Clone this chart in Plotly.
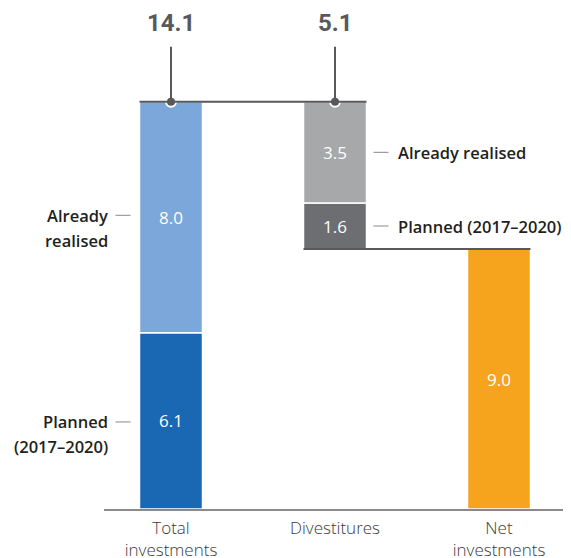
import plotly.graph_objects as go

# ---- data ----
categories = ["Total<br>investments", "Divestitures", "Net<br>investments"]
inv_realised = 8.0
inv_planned = 6.1
div_realised = 3.5
div_planned = 1.6
inv_total = round(inv_realised + inv_planned, 1)      # 14.1
div_total = round(div_realised + div_planned, 1)      # 5.1
net_inv = round(inv_total - div_total, 1)             # 9.0

# ---- styling ----
C_INV_REAL = "#7BA7DA"
C_INV_PLAN = "#1A67B4"
C_DIV_REAL = "#A7A8AA"
C_DIV_PLAN = "#6D6E71"
C_NET = "#F6A31E"
C_LINE = "#58595B"
C_DASH = "#9D9D9D"
FONT = "Open Sans"

W, H = 563, 550
ML, MR, MT, MB = 96, 3, 0, 49
x_range = [-0.4085, 2.4207]
y_range = [0, 17.35]
px_x = (x_range[1] - x_range[0]) / (W - ML - MR)   # data units per pixel (x)
px_y = (y_range[1] - y_range[0]) / (H - MT - MB)   # data units per pixel (y)
bw = 63 * px_x                                      # bar width

fig = go.Figure()

def bar(x, y, base, color, text):
    fig.add_trace(go.Bar(
        x=[x], y=[y], base=[base], width=[bw],
        marker=dict(color=color, line=dict(color="white", width=1.5)),
        text=[text], textposition="inside", insidetextanchor="middle",
        textfont=dict(color="white", size=17, family=FONT),
        hoverinfo="skip", showlegend=False, cliponaxis=False,
    ))

bar(0, inv_planned, 0, C_INV_PLAN, f"{inv_planned:.1f}")
bar(0, inv_realised, inv_planned, C_INV_REAL, f"{inv_realised:.1f}")
bar(1, div_planned, net_inv, C_DIV_PLAN, f"{div_planned:.1f}")
bar(1, div_realised, net_inv + div_planned, C_DIV_REAL, f"{div_realised:.1f}")
bar(2, net_inv, 0, C_NET, f"{net_inv:.1f}")

shapes = []
# connector lines
shapes.append(dict(type="line", x0=0 - bw / 2, x1=1 + bw / 2, y0=inv_total, y1=inv_total,
                   line=dict(color=C_LINE, width=2), layer="above"))
shapes.append(dict(type="line", x0=1 - bw / 2, x1=2 + bw / 2, y0=net_inv, y1=net_inv,
                   line=dict(color=C_LINE, width=2), layer="above"))
# vertical leader lines to the top labels
for xi in (0, 1):
    shapes.append(dict(type="line", x0=xi, x1=xi, y0=inv_total, y1=inv_total + 55 * px_y,
                       line=dict(color=C_LINE, width=2), layer="above"))

# dots
fig.add_trace(go.Scatter(
    x=[0, 1], y=[inv_total, inv_total], mode="markers",
    marker=dict(size=10, color=C_LINE, line=dict(color="white", width=2)),
    hoverinfo="skip", showlegend=False, cliponaxis=False,
))

annotations = []
# top totals
for xi, val in ((0, inv_total), (1, div_total)):
    annotations.append(dict(x=xi, y=inv_total, yshift=79, text=f"<b>{val:.1f}</b>",
                            showarrow=False, font=dict(size=24, color=C_LINE, family="Roboto"),
                            xanchor="center", yanchor="middle"))

lab_font = dict(size=16.5, color="#231F20", family=FONT, weight=600)

# left labels (Total investments)
left_edge = 0 - bw / 2
def left_label(lines, y_mid):
    shapes.append(dict(type="line", x0=left_edge - 24 * px_x, x1=left_edge - 9 * px_x,
                       y0=y_mid, y1=y_mid, line=dict(color=C_DASH, width=1.2)))
    for i, t in enumerate(lines):
        annotations.append(dict(x=left_edge - 30 * px_x, y=y_mid, yshift=-25 * i, text=t,
                                showarrow=False, xanchor="right", yanchor="middle", font=lab_font))

left_label(["Already", "realised"], inv_planned + inv_realised / 2 + 2 * px_y)
left_label(["Planned", "(2017–2020)"], inv_planned / 2 - 1 * px_y)

# right labels (Divestitures)
right_edge = 1 + bw / 2
def right_label(text, y_mid):
    shapes.append(dict(type="line", x0=right_edge + 7 * px_x, x1=right_edge + 22 * px_x,
                       y0=y_mid, y1=y_mid, line=dict(color=C_DASH, width=1.2)))
    annotations.append(dict(x=right_edge + 29 * px_x, y=y_mid, text=text, showarrow=False,
                            xanchor="left", yanchor="middle", font=lab_font))

right_label("Already realised", net_inv + div_planned + div_realised / 2)
right_label("Planned (2017–2020)", net_inv + div_planned / 2)

fig.update_layout(
    width=W, height=H,
    margin=dict(l=ML, r=MR, t=MT, b=MB, autoexpand=False),
    paper_bgcolor="white", plot_bgcolor="white",
    barmode="overlay",
    shapes=shapes, annotations=annotations,
    xaxis=dict(range=x_range, tickvals=[0, 1, 2], ticktext=categories,
               showgrid=False, zeroline=False, showline=True, linecolor="#8A8A8A", linewidth=1.5,
               ticks="", ticklabelstandoff=3, automargin=False,
               tickfont=dict(size=17, color="#3A3A3A", family=FONT, weight=300),
               fixedrange=True),
    yaxis=dict(range=y_range, visible=False, showgrid=False, zeroline=False, fixedrange=True),
    font=dict(family=FONT),
)

fig.write_html("out.html")
